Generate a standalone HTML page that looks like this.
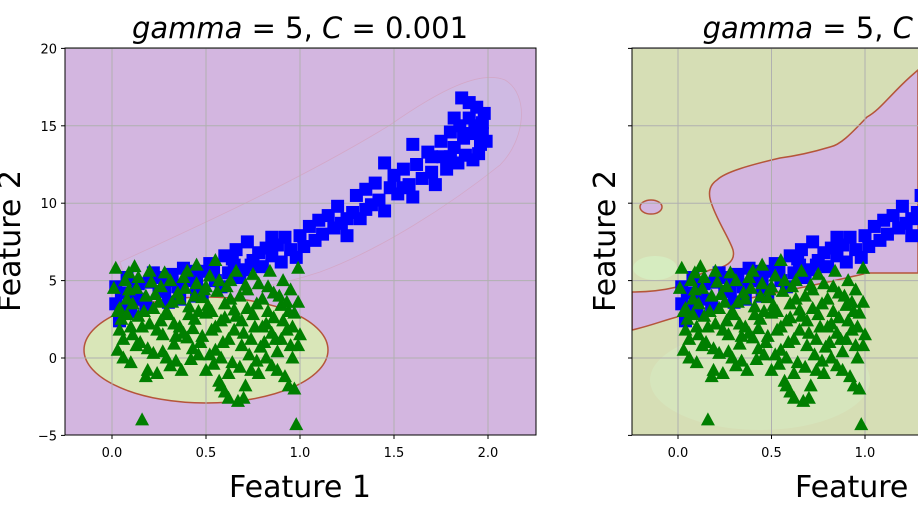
<!DOCTYPE html>
<html><head><meta charset="utf-8"><style>
body{margin:0;background:#fff;width:918px;height:517px;overflow:hidden}
svg text{font-family:"DejaVu Sans","Liberation Sans",sans-serif}
</style></head><body>
<svg id="chart" width="918" height="517" viewBox="0 0 918 517" xmlns="http://www.w3.org/2000/svg">
<defs>
<clipPath id="cl"><rect x="65" y="48" width="471" height="387"/></clipPath>
<clipPath id="cr"><rect x="632" y="48" width="471" height="387"/></clipPath>
</defs>
<g id="left">
<rect x="65" y="48" width="471" height="387" fill="#d3b6e0"/>
<g clip-path="url(#cl)">
<path d="M120,262 C200,225 300,180 390,125 C440,90 480,70 505,80 C530,95 525,140 500,165 C450,205 380,250 320,272 C260,292 180,300 130,296 Z" fill="#cfbae3" stroke="#d3a8c8" stroke-width="0.8"/>
<ellipse cx="206" cy="350" rx="122" ry="53" fill="#d9e6b8" stroke="#b5553a" stroke-width="1.5"/>
<g id="gl"></g>
<g id="pl"></g>
</g>
<rect x="65" y="48" width="471" height="387" fill="none" stroke="#000" stroke-width="1"/>
<g id="tl"></g>
<text x="300" y="38" font-size="29" text-anchor="middle"><tspan font-style="italic">gamma</tspan> = 5, <tspan font-style="italic">C</tspan> = 0.001</text>
<text x="300" y="497" font-size="30" text-anchor="middle">Feature 1</text>
<text transform="translate(20,241) rotate(-90)" font-size="30" text-anchor="middle">Feature 2</text>
</g>
<g id="right">
<rect x="632" y="48" width="300" height="387" fill="#d6deb5"/>
<g clip-path="url(#cr)">
<path d="M918,70 L910,77 C890,95 880,110 867,117 C850,135 840,145 830,147 C810,153 795,156 780,158 C750,165 725,172 717,180 C708,186 708,195 712,205 C718,222 730,240 733,250 C736,262 725,268 710,270 C695,275 685,284 677,287 C660,291 645,292 632,292 L632,330 C650,326 665,320 677,317 C690,312 700,309 710,307 C760,295 820,285 867,273 L918,273 Z" fill="#d3b6e0" stroke="#b5553a" stroke-width="1.5"/>
<ellipse cx="651" cy="207" rx="11" ry="7" fill="#d3b6e0" stroke="#b5553a" stroke-width="1.5"/>
<ellipse cx="655" cy="268" rx="22" ry="12" fill="#d6ecc0"/>
<ellipse cx="760" cy="380" rx="110" ry="50" fill="#d6e8bf" opacity="0.7"/>
<g id="gr"></g>
<g id="pr"></g>
</g>
<rect x="632" y="48" width="300" height="387" fill="none" stroke="#000" stroke-width="1"/>
<g id="tr"></g>
<text x="866" y="38" font-size="29" text-anchor="middle"><tspan font-style="italic">gamma</tspan> = 5, <tspan font-style="italic">C</tspan> = 1000</text>
<text x="866" y="497" font-size="30" text-anchor="middle">Feature 1</text>
<text transform="translate(615,241) rotate(-90)" font-size="30" text-anchor="middle">Feature 2</text>
</g>
</svg>
<script>
const xTicks=[0.0,0.5,1.0,1.5,2.0];
const xTickLabels=["0.0","0.5","1.0","1.5","2.0"];
const yTicks=[20,15,10,5,0,-5];
const yTickLabels=["20","15","10","5","0","\u22125"];
const blueX=[0.02,0.05,0.08,0.12,0.15,0.2,0.22,0.25,0.3,0.35,0.38,0.42,0.45,0.5,0.52,0.55,0.6,0.62,0.65,0.7,0.72,0.75,0.78,0.8,0.82,0.85,0.88,0.9,0.92,0.95,0.98,1.0,1.02,1.05,1.08,1.1,1.12,1.15,1.18,1.2,1.22,1.25,1.28,1.3,1.32,1.35,1.38,1.4,1.42,1.45,1.48,1.5,1.52,1.55,1.58,1.6,1.62,1.65,1.68,1.7,1.72,1.75,1.76,1.78,1.8,1.82,1.84,1.85,1.87,1.88,1.9,1.91,1.92,1.94,1.95,1.96,1.97,1.98,1.99,1.86,1.6,1.45,0.1,0.3,0.45,0.02,0.04,0.06,0.1,0.14,0.18,0.24,0.28,0.32,0.36,0.4,0.44,0.48,0.54,0.58,0.64,0.68,0.74,0.66,0.85,1.25,1.35,1.55,1.7,1.82,1.9,1.93,1.97,1.95,1.8];
const blueY=[3.5,4.2,5.2,4.6,3.8,4.9,5.5,4.3,5.0,4.6,5.8,5.2,4.8,5.6,6.1,5.0,6.6,5.5,6.0,5.7,7.5,6.3,6.8,5.9,7.1,6.6,7.3,6.2,7.8,7.0,6.5,7.9,7.2,8.5,7.6,8.9,8.0,9.2,8.4,9.8,8.7,7.9,9.4,10.5,9.0,10.9,9.9,11.3,10.2,9.5,11.0,11.8,10.6,12.2,11.2,10.4,12.5,11.6,13.3,12.0,11.2,14.0,13.0,12.2,14.6,13.6,12.6,15.0,14.2,13.1,15.5,14.5,12.8,16.2,15.0,13.8,14.5,15.8,14.0,16.8,13.8,12.6,3.0,3.6,4.0,4.6,2.4,3.2,4.0,4.8,3.4,5.2,4.4,5.4,3.8,5.0,5.6,4.2,5.8,4.6,6.4,5.2,6.0,7.0,7.8,9.0,9.6,11.0,13.0,15.5,16.5,15.0,15.2,13.2,13.0];
const greenX=[0.02,0.05,0.03,0.06,0.08,0.1,0.1,0.12,0.13,0.15,0.16,0.17,0.18,0.2,0.21,0.22,0.24,0.25,0.27,0.28,0.3,0.31,0.33,0.35,0.36,0.38,0.4,0.41,0.42,0.44,0.45,0.47,0.48,0.5,0.5,0.52,0.53,0.55,0.56,0.57,0.58,0.6,0.6,0.62,0.63,0.64,0.66,0.67,0.68,0.7,0.7,0.72,0.73,0.75,0.76,0.78,0.8,0.81,0.83,0.85,0.86,0.88,0.9,0.92,0.93,0.95,0.96,0.97,0.98,0.99,1.0,0.04,0.09,0.14,0.19,0.23,0.26,0.32,0.34,0.37,0.39,0.43,0.46,0.49,0.51,0.54,0.59,0.61,0.65,0.69,0.71,0.74,0.77,0.79,0.82,0.84,0.87,0.89,0.91,0.94,0.97,0.07,0.11,0.29,0.55,0.45,0.01,0.03,0.04,0.06,0.08,0.09,0.11,0.13,0.14,0.16,0.18,0.19,0.2,0.22,0.24,0.26,0.27,0.29,0.31,0.33,0.34,0.36,0.38,0.4,0.41,0.43,0.44,0.46,0.48,0.5,0.52,0.53,0.55,0.57,0.58,0.6,0.62,0.63,0.65,0.66,0.68,0.69,0.71,0.72,0.74,0.75,0.77,0.78,0.8,0.82,0.83,0.85,0.86,0.88,0.9,0.91,0.93,0.95,0.96,0.99,0.99,0.94,0.62,0.58];
const greenY=[5.8,2.5,0.5,1.2,3.8,-0.3,2.0,5.9,4.5,1.0,-4.0,3.0,-1.2,2.2,4.9,0.3,-1.0,3.6,1.5,5.5,2.8,-0.5,0.9,4.2,2.0,5.2,1.3,3.3,-0.1,2.5,4.8,1.0,3.9,-0.8,2.9,5.3,1.8,0.5,4.3,-1.5,2.4,3.5,-2.2,1.2,5.0,-0.3,2.7,-2.8,4.0,-2.6,1.6,3.2,0.2,5.4,2.0,-1.0,3.8,1.0,4.6,-0.5,2.6,0.4,3.4,-1.2,1.8,4.4,0.0,2.9,-4.3,5.8,1.5,3.2,4.4,2.7,0.6,4.1,2.4,3.6,1.4,-0.8,4.5,1.9,0.2,4.4,3.4,-0.4,1.0,4.6,3.1,0.8,4.7,-0.8,3.5,0.7,2.2,5.6,1.2,4.0,2.4,3.0,-2.0,5.0,1.5,0.0,6.3,6.0,4.5,3.0,1.8,0.0,2.8,5.5,3.5,0.8,5.2,2.0,4.0,-0.8,5.6,3.2,1.8,4.6,0.4,3.0,5.0,2.2,-0.2,3.8,1.6,5.6,2.8,0.6,4.0,3.0,1.4,4.6,0.2,3.0,2.0,5.0,0.0,2.6,-1.0,3.8,1.8,5.6,-0.6,2.4,-1.8,4.4,1.2,2.8,-0.2,4.8,2.0,0.0,3.0,1.6,4.2,-0.8,1.2,5.0,3.6,0.8,2.0,3.6,0.8,-1.8,-2.6,-1.8];

const NS="http://www.w3.org/2000/svg";
function mk(tag,attrs,parent){const e=document.createElementNS(NS,tag);for(const k in attrs)e.setAttribute(k,attrs[k]);parent.appendChild(e);return e;}
const yS=v=>358-15.48*v;
const panels=[{x0:112,k:188,left:65,right:536,grid:'gl',pts:'pl',ticks:'tl',labels:true},{x0:678,k:187,left:632,right:918,grid:'gr',pts:'pr',ticks:'tr',labels:false}];
panels.forEach((p,pi)=>{
  const xS=v=>p.x0+p.k*v;
  const g=document.getElementById(p.grid),t=document.getElementById(p.ticks),pts=document.getElementById(p.pts);
  xTicks.forEach((v,i)=>{
    const l=mk('line',{x1:xS(v),x2:xS(v),y1:48,y2:435,stroke:'#b0b0b0','stroke-width':1},g);
    
    
    const tk=mk('line',{x1:xS(v),x2:xS(v),y1:435,y2:439,stroke:'#000'},t);
    
    
    const tx=mk('text',{x:xS(v),y:457,'font-size':13,'text-anchor':'middle'},t);
    tx.textContent=xTickLabels[i];
    
    
  });
  yTicks.forEach((v,i)=>{
    const l=mk('line',{x1:p.left,x2:p.right,y1:yS(v),y2:yS(v),stroke:'#b0b0b0','stroke-width':1},g);
    
    
    const tk=mk('line',{x1:p.left-4,x2:p.left,y1:yS(v),y2:yS(v),stroke:'#000'},t);
    
    
    if(p.labels){
      const tx=mk('text',{x:p.left-8,y:yS(v)+5,'font-size':13,'text-anchor':'end'},t);
      tx.textContent=yTickLabels[i];
      
      
    }
  });
  blueX.forEach((v,i)=>{
    const cx=xS(v),cy=yS(blueY[i]);
    const r=mk('rect',{x:cx-6.5,y:cy-6.5,width:13,height:13,fill:'#0000ff'},pts);
    
    
  });
  greenX.forEach((v,i)=>{
    const cx=xS(v),cy=yS(greenY[i]);
    const tr=mk('polygon',{points:`${cx},${cy-7.5} ${cx-7},${cy+5.5} ${cx+7},${cy+5.5}`,fill:'#007f00'},pts);
    
    
  });
});
</script>
</body></html>
